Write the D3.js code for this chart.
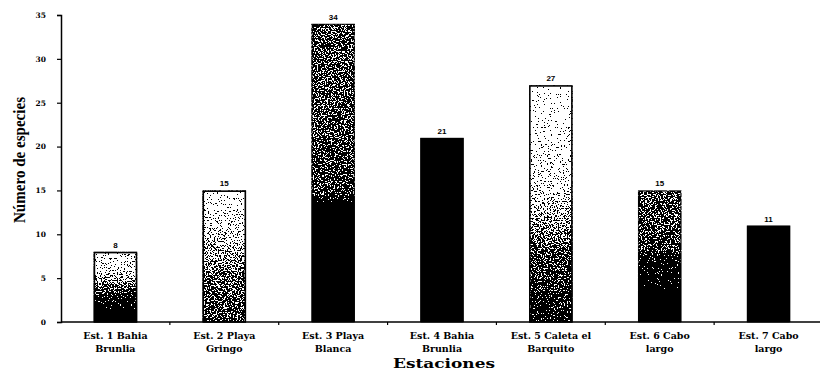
<!DOCTYPE html>
<html>
<head>
<meta charset="utf-8">
<script src="https://cdn.jsdelivr.net/npm/d3@7/dist/d3.min.js"></script>
<style>
  html, body { margin: 0; padding: 0; background: #fff; }
  svg { display: block; }
</style>
</head>
<body>
<svg id="chart" width="820" height="371"></svg>
<script>
// Species count per sampling station
const stations = [
  ["Est. 1 Bahia", "Brunlia"],
  ["Est. 2 Playa", "Gringo"],
  ["Est. 3 Playa", "Blanca"],
  ["Est. 4 Bahia", "Brunlia"],
  ["Est. 5 Caleta el", "Barquito"],
  ["Est. 6 Cabo", "largo"],
  ["Est. 7 Cabo", "largo"]
];
const species = [8, 15, 34, 21, 27, 15, 11];
const yTicks = [0, 5, 10, 15, 20, 25, 30, 35];

// Grey ramps (offset from bottom, grey level) rendered through a dither filter
const ramps = [
  [[0, 0.0], [0.3, 0.05], [0.5, 0.4], [0.75, 0.82], [1, 0.92]],
  [[0, 0.3], [0.35, 0.42], [0.75, 0.82], [1, 0.97]],
  [[0, 0.0], [0.4, 0.02], [0.43, 0.3], [1, 0.38]],
  [[0, 0.0], [1, 0.0]],
  [[0, 0.12], [0.3, 0.35], [0.55, 0.8], [0.8, 0.94], [1, 0.97]],
  [[0, 0.0], [0.45, 0.05], [0.55, 0.3], [1, 0.38]],
  [[0, 0.0], [1, 0.0]]
];
const outlined = [true, true, false, false, true, false, false];

const svg = d3.select("#chart");
const margin = { left: 61, top: 15, bottom: 49 };
const W = 820, H = 371;

const x = d3.scaleBand()
  .domain(d3.range(species.length))
  .range([margin.left, 823])
  .paddingInner(0.6)
  .paddingOuter(0.3);

const y = d3.scaleLinear()
  .domain([0, 35])
  .range([H - margin.bottom, margin.top]);

const defs = svg.append("defs");

// Dither: compare the grey fill against a stretched noise threshold,
// so pure black stays black and pure white stays white.
const f = defs.append("filter").attr("id", "dither")
  .attr("x", 0).attr("y", 0).attr("width", 1).attr("height", 1)
  .attr("color-interpolation-filters", "sRGB");
f.append("feTurbulence").attr("type", "fractalNoise").attr("baseFrequency", 0.7)
  .attr("numOctaves", 2).attr("seed", 7).attr("result", "noise");
f.append("feColorMatrix").attr("in", "noise").attr("type", "matrix")
  .attr("values", "1 0 0 0 0  1 0 0 0 0  1 0 0 0 0  0 0 0 0 1")
  .attr("result", "gnoise");
const st = f.append("feComponentTransfer").attr("in", "gnoise").attr("result", "stretched");
["feFuncR", "feFuncG", "feFuncB"].forEach(fn =>
  st.append(fn).attr("type", "linear").attr("slope", 2.6).attr("intercept", -0.8));
const sq = f.append("feComponentTransfer").attr("in", "stretched").attr("result", "thr");
["feFuncR", "feFuncG", "feFuncB"].forEach(fn =>
  sq.append(fn).attr("type", "table").attr("tableValues", "0.03 0.97"));
f.append("feComposite").attr("in", "SourceGraphic").attr("in2", "thr")
  .attr("operator", "arithmetic").attr("k1", 0).attr("k2", 4).attr("k3", 4).attr("k4", -3.5)
  .attr("result", "mix");
const ct = f.append("feComponentTransfer").attr("in", "mix").attr("result", "bw");
["feFuncR", "feFuncG", "feFuncB"].forEach(fn =>
  ct.append(fn).attr("type", "discrete").attr("tableValues", "0 1"));
f.append("feComposite").attr("in", "bw").attr("in2", "SourceGraphic").attr("operator", "in");

ramps.forEach((stops, i) => {
  const g = defs.append("linearGradient").attr("id", "ramp" + i)
    .attr("x1", 0).attr("y1", 1).attr("x2", 0).attr("y2", 0);
  stops.forEach(([o, v]) => {
    const c = Math.round(v * 255);
    g.append("stop").attr("offset", o).attr("stop-color", `rgb(${c},${c},${c})`);
  });
});

// Bars
const bars = svg.append("g");
bars.selectAll("rect.fill")
  .data(species)
  .join("rect")
  .attr("class", "fill")
  .attr("x", (d, i) => x(i))
  .attr("y", d => y(d))
  .attr("width", x.bandwidth())
  .attr("height", d => y(0) - y(d))
  .attr("fill", (d, i) => `url(#ramp${i})`)
  .attr("filter", "url(#dither)");

bars.selectAll("rect.edge")
  .data(species)
  .join("rect")
  .attr("class", "edge")
  .attr("x", (d, i) => x(i) + 0.75)
  .attr("y", d => y(d) + 0.75)
  .attr("width", x.bandwidth() - 1.5)
  .attr("height", d => y(0) - y(d) - 0.75)
  .attr("fill", "none")
  .attr("stroke", "#000")
  .attr("stroke-width", (d, i) => outlined[i] ? 1.6 : 0.8);

// Value labels
svg.append("g").selectAll("text")
  .data(species)
  .join("text")
  .attr("x", (d, i) => x(i) + x.bandwidth() / 2)
  .attr("y", d => y(d) - 4)
  .attr("text-anchor", "middle")
  .attr("font-family", "Liberation Sans, Arial, sans-serif")
  .attr("font-weight", "bold")
  .attr("font-size", 8)
  .text(d => d);

// Y axis
const yAxis = svg.append("g")
  .attr("transform", `translate(${margin.left},0)`)
  .call(d3.axisLeft(y).tickValues(yTicks).tickSize(4).tickPadding(11));
yAxis.select(".domain").attr("stroke-width", 1.5);
yAxis.selectAll(".tick line").attr("stroke-width", 1.2);
yAxis.selectAll("text")
  .attr("font-family", "DejaVu Serif, serif")
  .attr("font-weight", "bold")
  .attr("font-size", 7.5)
  .attr("fill", "#000");

// X axis: ticks sit at band boundaries
const boundaries = d3.range(1, species.length).map(i => x(i) - x.step() * x.paddingInner() / 2);
const xAxisG = svg.append("g").attr("transform", `translate(0,${y(0)})`);
xAxisG.append("line")
  .attr("x1", margin.left).attr("x2", W)
  .attr("stroke", "#000").attr("stroke-width", 1.5);
xAxisG.selectAll("line.tk")
  .data(boundaries)
  .join("line")
  .attr("class", "tk")
  .attr("x1", d => d).attr("x2", d => d)
  .attr("y1", 0).attr("y2", 3)
  .attr("stroke", "#000").attr("stroke-width", 1.2);

const labels = svg.append("g").selectAll("text")
  .data(stations)
  .join("text")
  .attr("x", (d, i) => x(i) + x.bandwidth() / 2)
  .attr("y", y(0) + 17)
  .attr("text-anchor", "middle")
  .attr("font-family", "DejaVu Serif, serif")
  .attr("font-weight", "bold")
  .attr("font-size", 9.5);
labels.selectAll("tspan")
  .data(d => d)
  .join("tspan")
  .attr("x", function () { return d3.select(this.parentNode).attr("x"); })
  .attr("dy", (d, j) => j === 0 ? 0 : 12.5)
  .text(d => d);

// Axis titles
svg.append("text")
  .attr("x", 444)
  .attr("y", 367.5)
  .attr("text-anchor", "middle")
  .attr("font-family", "DejaVu Serif, serif")
  .attr("font-weight", "bold")
  .attr("font-size", 13.5)
  .attr("textLength", 102)
  .attr("lengthAdjust", "spacingAndGlyphs")
  .text("Estaciones");

svg.append("text")
  .attr("transform", `translate(25,160) rotate(-90)`)
  .attr("text-anchor", "middle")
  .attr("font-family", "Liberation Serif, Times New Roman, serif")
  .attr("font-weight", "bold")
  .attr("font-size", 17)
  .attr("textLength", 126)
  .attr("lengthAdjust", "spacingAndGlyphs")
  .text("Número de especies");
</script>
</body>
</html>
